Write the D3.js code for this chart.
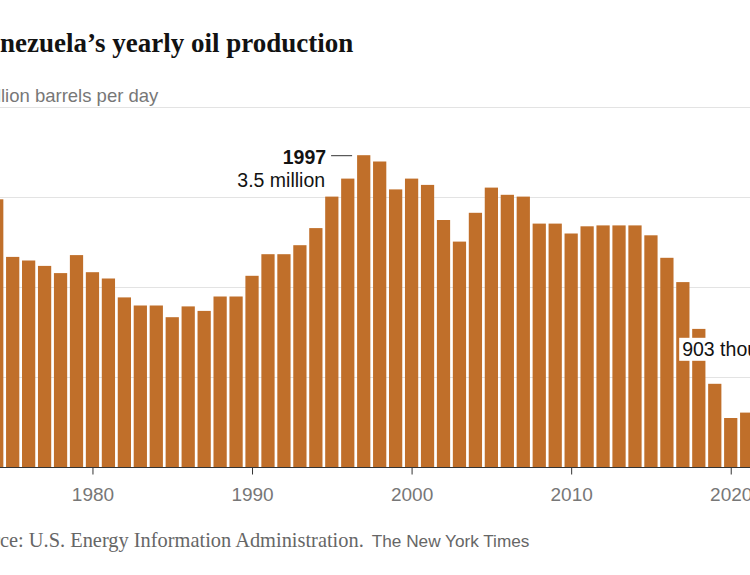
<!DOCTYPE html>
<html>
<head>
<meta charset="utf-8">
<script src="https://cdn.jsdelivr.net/npm/d3@7"></script>
<style>
  body { margin: 0; background: #fff; }
  svg { display: block; }
</style>
</head>
<body>
<div id="chart-area"></div>
<script>
var w = 750;
var h = 575;

// million barrels per day
var years = d3.range(1974, 2022);
var production = [2.98, 2.34, 2.30, 2.24, 2.16, 2.36, 2.17, 2.10, 1.89, 1.80,
                  1.80, 1.67, 1.79, 1.74, 1.90, 1.90, 2.13, 2.37, 2.37, 2.47,
                  2.66, 3.01, 3.21, 3.47, 3.40, 3.09, 3.21, 3.14, 2.75, 2.51,
                  2.83, 3.11, 3.03, 3.01, 2.71, 2.71, 2.60, 2.68, 2.69, 2.69,
                  2.69, 2.58, 2.33, 2.06, 1.54, 0.93, 0.55, 0.61];
var yTicks = [1, 2, 3, 4];
var topLabel = "4 million barrels per day";
var xTicks = [1980, 1990, 2000, 2010, 2020];

var sans = "'Liberation Sans', Arial, Helvetica, sans-serif";
var serif = "'Liberation Serif', 'Times New Roman', serif";
var barColor = "#c06f2a";

var svg = d3.select('#chart-area').append('svg')
    .attr('width', w)
    .attr('height', h);

// helper: width of a bit of text so the cut-off start can sit left of the frame
function textWidth(str, font, size, weight) {
  var t = svg.append('text')
      .attr('font-family', font)
      .attr('font-size', size)
      .attr('font-weight', weight || 'normal')
      .text(str);
  var len = t.node().getComputedTextLength();
  t.remove();
  return len;
}

var x = d3.scaleBand()
    .domain(years)
    .range([-9.9, -9.9 + years.length * 15.9])
    .paddingInner(0.17);

var y = d3.scaleLinear()
    .domain([0, 4])
    .range([467.5, 107.5]);

// title
svg.append('text')
    .attr('x', -textWidth("Ve", serif, 27, 'bold'))
    .attr('y', 52)
    .attr('font-family', serif)
    .attr('font-size', 27)
    .attr('font-weight', 'bold')
    .attr('fill', '#121212')
    .text("Venezuela\u2019s yearly oil production");

// gridlines
svg.append('g').selectAll('line')
    .data(yTicks)
    .enter()
    .append('line')
    .attr('x1', 0)
    .attr('x2', w)
    .attr('y1', d => y(d))
    .attr('y2', d => y(d))
    .attr('stroke', '#e3e3e3')
    .attr('stroke-width', 1);

// top label, its start sits off the left edge
svg.append('text')
    .attr('x', -textWidth("4 Mil", sans, 18.5) + 1)
    .attr('y', y(4) - 6)
    .attr('font-family', sans)
    .attr('font-size', 18.5)
    .attr('fill', '#777')
    .text(topLabel);

// bars
svg.append('g').selectAll('rect')
    .data(years)
    .enter()
    .append('rect')
    .attr('x', d => x(d))
    .attr('width', x.bandwidth())
    .attr('y', (d, i) => y(production[i]))
    .attr('height', (d, i) => y(0) - y(production[i]))
    .attr('fill', barColor);

// x axis
var xAxis = d3.axisBottom(d3.scaleLinear()
        .domain([1974, 2021])
        .range([x(1974) + x.bandwidth() / 2, x(2021) + x.bandwidth() / 2]))
    .tickValues(xTicks)
    .tickFormat(d3.format("d"))
    .tickSize(7)
    .tickSizeOuter(0)
    .tickPadding(13);
var axisG = svg.append('g')
    .attr('transform', 'translate(0,' + y(0) + ')')
    .call(xAxis);
axisG.select('.domain').remove();
axisG.selectAll('.tick line').attr('stroke', '#333');
axisG.selectAll('.tick text')
    .attr('font-family', sans)
    .attr('font-size', 19)
    .attr('fill', '#777');
svg.append('line')
    .attr('x1', 0)
    .attr('x2', w)
    .attr('y1', y(0))
    .attr('y2', y(0))
    .attr('stroke', '#333')
    .attr('stroke-width', 1);

// 1997 peak annotation
var peakIdx = years.indexOf(1997);
var peakX = x(1997);
var peakY = y(production[peakIdx]);
svg.append('text')
    .attr('x', peakX - 31)
    .attr('y', peakY + 9)
    .attr('text-anchor', 'end')
    .attr('font-family', sans)
    .attr('font-size', 19.5)
    .attr('font-weight', 'bold')
    .attr('fill', '#121212')
    .text("1997");
svg.append('line')
    .attr('x1', peakX - 26)
    .attr('x2', peakX - 5)
    .attr('y1', peakY + 0.5)
    .attr('y2', peakY + 0.5)
    .attr('stroke', '#333')
    .attr('stroke-width', 1);
svg.append('text')
    .attr('x', peakX - 32)
    .attr('y', peakY + 32)
    .attr('text-anchor', 'end')
    .attr('font-family', sans)
    .attr('font-size', 19.5)
    .attr('fill', '#121212')
    .text("3.5 million");

// 2019 annotation with white box
var lowIdx = years.indexOf(2019);
var lowG = svg.append('g');
var lowText = lowG.append('text')
    .attr('x', x(2018) - 10)
    .attr('y', y(production[lowIdx]) - 28)
    .attr('font-family', sans)
    .attr('font-size', 19.5)
    .attr('fill', '#121212')
    .text("903 thousand");
var bb = lowText.node().getBBox();
lowG.insert('rect', 'text')
    .attr('x', bb.x - 3)
    .attr('y', bb.y)
    .attr('width', bb.width + 6)
    .attr('height', bb.height + 1)
    .attr('fill', '#fff');

// source line
var srcSize = 20.4;
var srcX = -textWidth("Sour", serif, srcSize);
var src = svg.append('text')
    .attr('x', srcX)
    .attr('y', 547)
    .attr('font-family', serif)
    .attr('font-size', srcSize)
    .attr('fill', '#666')
    .text("Source: U.S. Energy Information Administration.");
var srcEnd = srcX + src.node().getComputedTextLength();
svg.append('text')
    .attr('x', srcEnd + 8)
    .attr('y', 547)
    .attr('font-family', sans)
    .attr('font-size', 17.2)
    .attr('fill', '#666')
    .text("The New York Times");
</script>
</body>
</html>
